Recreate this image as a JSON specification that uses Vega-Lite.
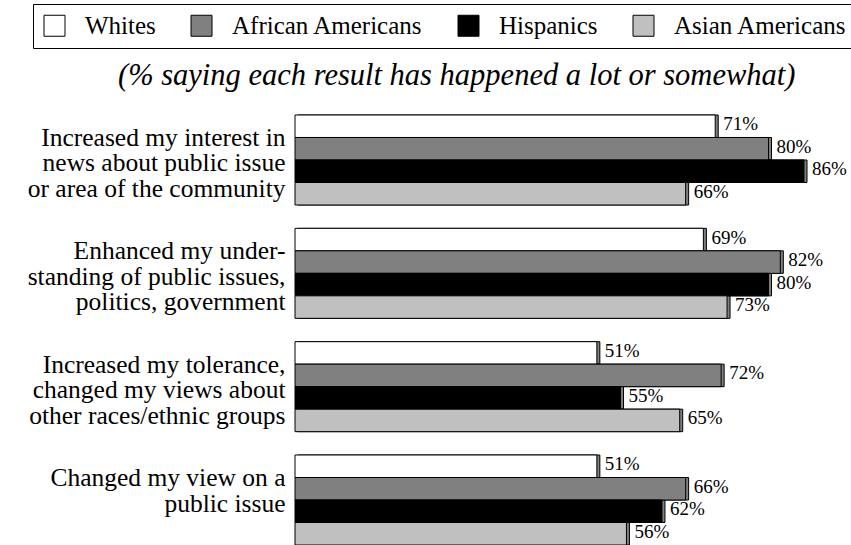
{
  "$schema": "https://vega.github.io/schema/vega-lite/v6.json",
  "width": 509,
  "height": 430,
  "autosize": {"type": "none"},
  "padding": {"left": 295, "top": 115, "right": 47, "bottom": 0},
  "background": "white",
  "config": {"view": {"stroke": null}, "font": "Liberation Serif"},
  "title": {
    "text": "(% saying each result has happened a lot or somewhat)",
    "font": "Liberation Serif",
    "fontSize": 30.5,
    "fontStyle": "italic",
    "fontWeight": "normal",
    "color": "black",
    "anchor": "start",
    "frame": "group",
    "baseline": "alphabetic",
    "dx": -177,
    "dy": 134,
    "offset": 22
  },
  "data": {
    "values": [
      {"item": "Increased my interest in news about public issue or area of the community", "group": "Whites", "value": 0.71},
      {"item": "Increased my interest in news about public issue or area of the community", "group": "African Americans", "value": 0.80},
      {"item": "Increased my interest in news about public issue or area of the community", "group": "Hispanics", "value": 0.86},
      {"item": "Increased my interest in news about public issue or area of the community", "group": "Asian Americans", "value": 0.66},
      {"item": "Enhanced my understanding of public issues, politics, government", "group": "Whites", "value": 0.69},
      {"item": "Enhanced my understanding of public issues, politics, government", "group": "African Americans", "value": 0.82},
      {"item": "Enhanced my understanding of public issues, politics, government", "group": "Hispanics", "value": 0.80},
      {"item": "Enhanced my understanding of public issues, politics, government", "group": "Asian Americans", "value": 0.73},
      {"item": "Increased my tolerance, changed my views about other races/ethnic groups", "group": "Whites", "value": 0.51},
      {"item": "Increased my tolerance, changed my views about other races/ethnic groups", "group": "African Americans", "value": 0.72},
      {"item": "Increased my tolerance, changed my views about other races/ethnic groups", "group": "Hispanics", "value": 0.55},
      {"item": "Increased my tolerance, changed my views about other races/ethnic groups", "group": "Asian Americans", "value": 0.65},
      {"item": "Changed my view on a public issue", "group": "Whites", "value": 0.51},
      {"item": "Changed my view on a public issue", "group": "African Americans", "value": 0.66},
      {"item": "Changed my view on a public issue", "group": "Hispanics", "value": 0.62},
      {"item": "Changed my view on a public issue", "group": "Asian Americans", "value": 0.56}
    ]
  },
  "encoding": {
    "y": {
      "field": "item",
      "type": "nominal",
      "sort": [
        "Increased my interest in news about public issue or area of the community",
        "Enhanced my understanding of public issues, politics, government",
        "Increased my tolerance, changed my views about other races/ethnic groups",
        "Changed my view on a public issue"
      ],
      "scale": {"paddingInner": 0.206, "paddingOuter": 0},
      "title": null,
      "axis": {
        "domain": false,
        "ticks": false,
        "labelPadding": 10,
        "labelFont": "Liberation Serif",
        "labelFontSize": 25.5,
        "labelLineHeight": 25.5,
        "labelOffset": -22,
        "labelColor": "black",
        "labelLimit": 0,
        "labelAlign": "right",
        "labelBaseline": "middle",
        "labelExpr": "datum.value == 'Increased my interest in news about public issue or area of the community' ? ['Increased my interest in', 'news about public issue', 'or area of the community'] : datum.value == 'Enhanced my understanding of public issues, politics, government' ? ['Enhanced my under-', 'standing of public issues,', 'politics, government'] : datum.value == 'Increased my tolerance, changed my views about other races/ethnic groups' ? ['Increased my tolerance,', 'changed my views about', 'other races/ethnic groups'] : ['Changed my view on a', 'public issue']"
      }
    },
    "yOffset": {
      "field": "group",
      "sort": ["Whites", "African Americans", "Hispanics", "Asian Americans"]
    },
    "x": {
      "field": "value",
      "type": "quantitative",
      "scale": {"domain": [0, 0.86], "nice": false, "zero": true},
      "axis": null
    }
  },
  "layer": [
    {
      "mark": {"type": "bar", "xOffset": 3, "x2Offset": 3, "yOffset": -3, "y2Offset": -3, "fill": "#7f7f7f", "stroke": "black", "strokeWidth": 1}
    },
    {
      "mark": {"type": "bar", "stroke": "black", "strokeWidth": 1},
      "encoding": {
        "fill": {
          "field": "group",
          "type": "nominal",
          "sort": ["Whites", "African Americans", "Hispanics", "Asian Americans"],
          "scale": {
            "domain": ["Whites", "African Americans", "Hispanics", "Asian Americans"],
            "range": ["#ffffff", "#808080", "#000000", "#c0c0c0"]
          },
          "legend": {
            "title": null,
            "orient": "none",
            "direction": "horizontal",
            "columns": 4,
            "legendX": -262,
            "legendY": -111,
            "padding": 9,
            "strokeColor": "black",
            "fillColor": "white",
            "symbolType": "square",
            "symbolSize": 441,
            "symbolStrokeColor": "black",
            "symbolStrokeWidth": 1,
            "labelFont": "Liberation Serif",
            "labelFontSize": 25,
            "labelColor": "black",
            "labelOffset": 18,
            "labelLimit": 0,
            "columnPadding": 33
          }
        }
      }
    },
    {
      "mark": {"type": "text", "align": "left", "baseline": "middle", "dx": 8, "dy": -2, "font": "Liberation Serif", "fontSize": 19, "color": "black"},
      "encoding": {
        "text": {"field": "value", "type": "quantitative", "format": ".0%"}
      }
    }
  ]
}
